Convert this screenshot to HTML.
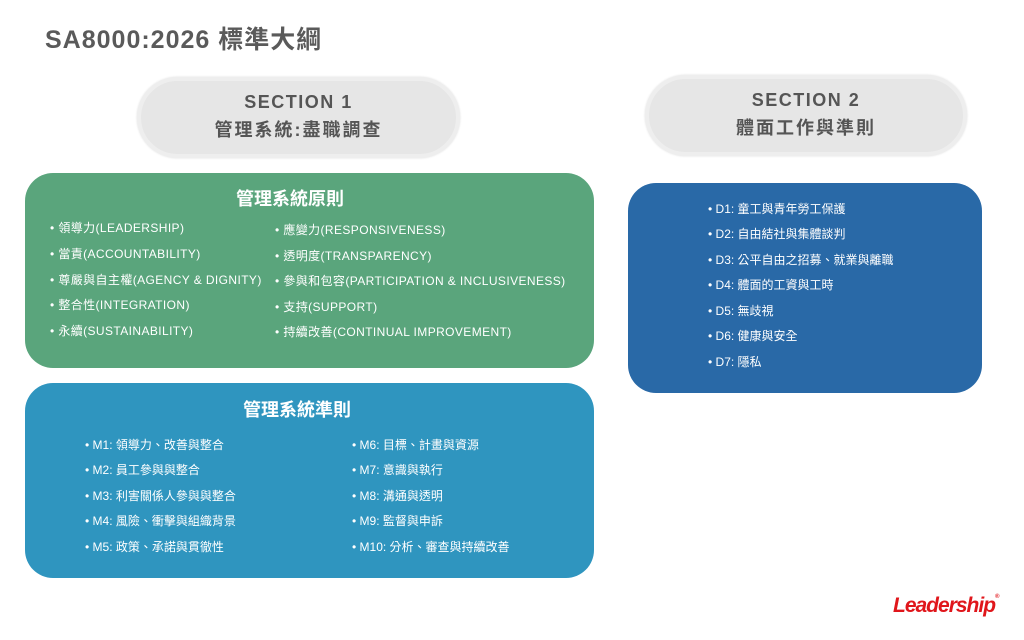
<!DOCTYPE html>
<html><head><meta charset="utf-8"><style>
*{margin:0;padding:0;box-sizing:border-box}
body{width:1024px;height:640px;background:#fff;position:relative;overflow:hidden;font-family:"Liberation Sans","Noto Sans CJK TC",sans-serif}
.abs{position:absolute}
.title{left:45px;top:20px;font-size:25px;font-weight:bold;color:#5a5a5a;letter-spacing:1px;white-space:nowrap}
.pill{background:#e6e6e6;border:4px solid #eeeeee;border-radius:42px;text-align:center;color:#555;font-weight:bold;box-shadow:0 0 2px #ddd}
.pill .a{font-size:18px;letter-spacing:1.5px;margin-top:10px;line-height:22px}
.pill .b{font-size:18px;letter-spacing:2px;margin-top:5px;line-height:24px}
.box{border-radius:28px;color:#fff}
.h{position:absolute;text-align:center;font-size:18px;font-weight:bold;letter-spacing:0;width:200px}
.it{position:absolute;font-size:12px;white-space:nowrap;line-height:14px}
.g .it{letter-spacing:0.4px}
.logo{left:893px;top:594px;color:#e0161b;font-weight:bold;font-style:italic;font-size:21px;letter-spacing:-1px}
</style></head><body>
<div class="abs title">SA8000:2026 標準大綱</div>
<div class="abs pill" style="left:137px;top:77px;width:323px;height:81px"><div class="a">SECTION 1</div><div class="b">管理系統:盡職調查</div></div>
<div class="abs pill" style="left:645px;top:75px;width:322px;height:81px"><div class="a">SECTION 2</div><div class="b">體面工作與準則</div></div>

<div class="abs box g" style="left:25px;top:173px;width:569px;height:195px;background:#5aa57c">
<div class="h" style="top:12px;left:165px">管理系統原則</div>
<div class="it" style="left:25px;top:48px">• 領導力(LEADERSHIP)</div>
<div class="it" style="left:25px;top:74px">• 當責(ACCOUNTABILITY)</div>
<div class="it" style="left:25px;top:100px">• 尊嚴與自主權(AGENCY &amp; DIGNITY)</div>
<div class="it" style="left:25px;top:125px">• 整合性(INTEGRATION)</div>
<div class="it" style="left:25px;top:151px">• 永續(SUSTAINABILITY)</div>
<div class="it" style="left:250px;top:50px">• 應變力(RESPONSIVENESS)</div>
<div class="it" style="left:250px;top:76px">• 透明度(TRANSPARENCY)</div>
<div class="it" style="left:250px;top:101px">• 參與和包容(PARTICIPATION &amp; INCLUSIVENESS)</div>
<div class="it" style="left:250px;top:127px">• 支持(SUPPORT)</div>
<div class="it" style="left:250px;top:152px">• 持續改善(CONTINUAL IMPROVEMENT)</div>
</div>

<div class="abs box" style="left:25px;top:383px;width:569px;height:195px;background:#2f95bf">
<div class="h" style="top:13px;left:172px">管理系統準則</div>
<div class="it" style="left:60px;top:55px">• M1: 領導力、改善與整合</div>
<div class="it" style="left:60px;top:80px">• M2: 員工參與與整合</div>
<div class="it" style="left:60px;top:106px">• M3: 利害關係人參與與整合</div>
<div class="it" style="left:60px;top:131px">• M4: 風險、衝擊與組織背景</div>
<div class="it" style="left:60px;top:157px">• M5: 政策、承諾與貫徹性</div>
<div class="it" style="left:327px;top:55px">• M6: 目標、計畫與資源</div>
<div class="it" style="left:327px;top:80px">• M7: 意識與執行</div>
<div class="it" style="left:327px;top:106px">• M8: 溝通與透明</div>
<div class="it" style="left:327px;top:131px">• M9: 監督與申訴</div>
<div class="it" style="left:327px;top:157px">• M10: 分析、審查與持續改善</div>
</div>

<div class="abs box" style="left:628px;top:183px;width:354px;height:210px;background:#2969a7">
<div class="it" style="left:80px;top:19px">• D1: 童工與青年勞工保護</div>
<div class="it" style="left:80px;top:44px">• D2: 自由結社與集體談判</div>
<div class="it" style="left:80px;top:70px">• D3: 公平自由之招募、就業與離職</div>
<div class="it" style="left:80px;top:95px">• D4: 體面的工資與工時</div>
<div class="it" style="left:80px;top:121px">• D5: 無歧視</div>
<div class="it" style="left:80px;top:146px">• D6: 健康與安全</div>
<div class="it" style="left:80px;top:172px">• D7: 隱私</div>
</div>

<div class="abs logo">Leadership<span style="font-size:6px;vertical-align:top">®</span></div>
</body></html>
